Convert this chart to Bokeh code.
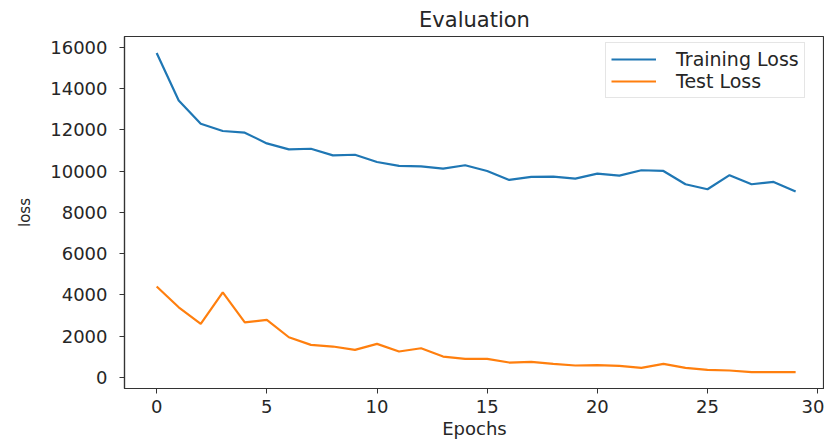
from bokeh.plotting import figure
from bokeh.models import Legend, LegendItem, FixedTicker, Title
from bokeh.embed import file_html
from bokeh.resources import INLINE

epochs = [0, 1, 2, 3, 4, 5, 6, 7, 8, 9, 10, 11, 12, 13, 14,
          15, 16, 17, 18, 19, 20, 21, 22, 23, 24, 25, 26, 27, 28, 29]
training_loss = [15720, 13420, 12290, 11940, 11860, 11340, 11050, 11080, 10760, 10790,
                 10440, 10250, 10230, 10120, 10280, 10000, 9570, 9715, 9730, 9635,
                 9875, 9780, 10040, 10005, 9360, 9120, 9800, 9360, 9475, 9005]
test_loss = [4410, 3400, 2600, 4120, 2670, 2790, 1950, 1580, 1500, 1340,
             1630, 1260, 1415, 1015, 905, 905, 725, 760, 660, 580,
             595, 565, 470, 660, 470, 370, 340, 260, 260, 260]
x_ticks = [0, 5, 10, 15, 20, 25, 30]
y_ticks = [0, 2000, 4000, 6000, 8000, 10000, 12000, 14000, 16000]

TEXT = "#262626"
FONT = "DejaVu Sans"

p = figure(width=824, height=441, output_backend="svg", toolbar_location=None,
           x_range=(-1.46, 30.31), y_range=(-533, 16518),
           min_border_left=123, min_border_right=0, min_border_top=36, min_border_bottom=53)

p.title.text = "Evaluation"
p.title.align = "center"
p.title.text_font = FONT
p.title.text_font_size = "21px"
p.title.text_font_style = "normal"
p.title.text_color = TEXT

p.grid.visible = False
p.outline_line_color = "#333333"
p.outline_line_width = 1.2
p.background_fill_color = "white"
p.border_fill_color = "white"

for ax in (p.xaxis[0], p.yaxis[0]):
    ax.axis_line_color = "#333333"
    ax.axis_line_width = 1.2
    ax.major_tick_line_color = "#333333"
    ax.major_tick_out = 5
    ax.major_tick_in = 0
    ax.minor_tick_line_color = None
    ax.major_label_text_font = FONT
    ax.major_label_text_font_size = "18px"
    ax.major_label_text_color = TEXT
    ax.axis_label_text_font = FONT
    ax.axis_label_text_font_style = "normal"
    ax.axis_label_text_color = TEXT

p.xaxis[0].ticker = FixedTicker(ticks=x_ticks)
p.yaxis[0].ticker = FixedTicker(ticks=y_ticks)
p.xaxis[0].major_label_standoff = 6
p.yaxis[0].major_label_standoff = 12
p.xaxis[0].axis_label = "Epochs"
p.xaxis[0].axis_label_text_font_size = "18px"
p.xaxis[0].axis_label_standoff = 2

ylabel = Title(text="loss", align="center", text_font=FONT, text_font_size="15px",
               text_font_style="normal", text_color=TEXT, standoff=27)
p.add_layout(ylabel, "left")

r1 = p.line(epochs, training_loss, line_color="#1f77b4", line_width=2.2)
r2 = p.line(epochs, test_loss, line_color="#ff7f0e", line_width=2.2)

legend = Legend(items=[LegendItem(label="Training Loss", renderers=[r1]),
                       LegendItem(label="Test Loss", renderers=[r2])],
                location=(481, 290))
legend.label_text_font = FONT
legend.label_text_font_size = "19px"
legend.label_text_color = TEXT
legend.glyph_width = 45
legend.glyph_height = 22
legend.label_height = 22
legend.label_standoff = 20
legend.spacing = 0
legend.padding = 5
legend.margin = 0
legend.border_line_color = "#cccccc"
legend.border_line_width = 1
legend.background_fill_alpha = 0.9
p.add_layout(legend)

open("out.html", "w").write(file_html(p, INLINE))
